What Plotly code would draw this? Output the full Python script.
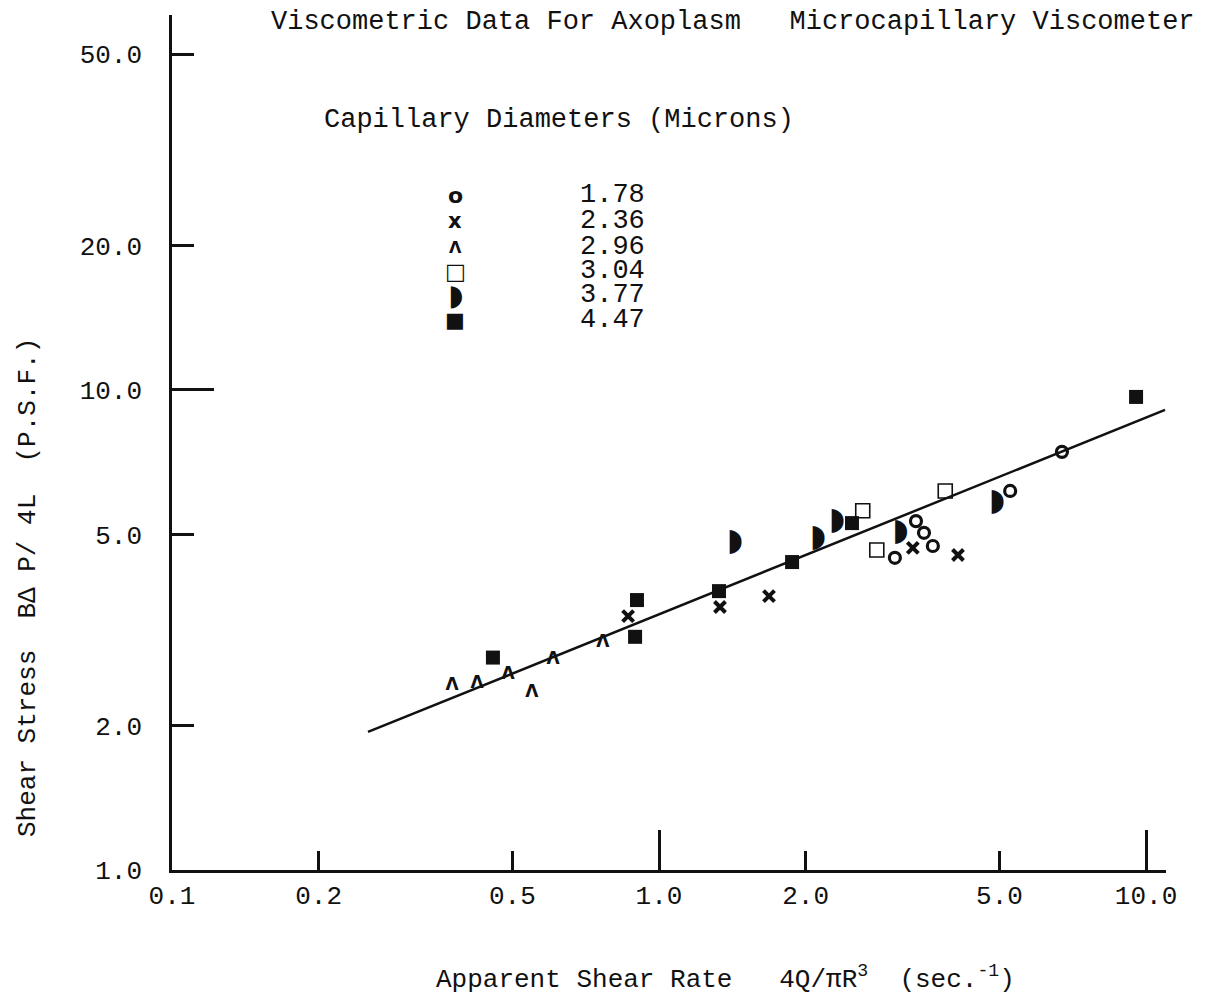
import plotly.graph_objects as go

# ---------------- data ----------------
# Capillary diameter 1.78 microns (open circles)
x_178 = [3.05, 3.37, 3.50, 3.65, 5.26, 6.72]
y_178 = [4.47, 5.33, 5.04, 4.73, 6.16, 7.43]
# 2.36 microns (x)
x_236 = [0.864, 1.334, 1.682, 3.32, 4.11]
y_236 = [3.38, 3.53, 3.72, 4.69, 4.53]
# 2.96 microns (caret)
x_296 = [0.376, 0.423, 0.490, 0.548, 0.606, 0.767]
y_296 = [2.42, 2.44, 2.55, 2.34, 2.74, 2.97]
# 3.04 microns (open squares)
x_304 = [2.62, 2.80, 3.87]
y_304 = [5.60, 4.64, 6.16]
# 3.77 microns (right half disc)
x_377 = [1.432, 2.12, 2.32, 3.13, 4.94]
y_377 = [4.82, 4.92, 5.33, 5.06, 5.84]
# 4.47 microns (filled squares)
x_447 = [0.456, 0.901, 0.893, 1.328, 1.876, 2.49, 9.54]
y_447 = [2.77, 3.65, 3.06, 3.81, 4.38, 5.28, 9.67]

# fitted line end points
fit_x = [0.2526, 10.94]
fit_y = [1.939, 9.09]

legend_labels = ["1.78", "2.36", "2.96", "3.04", "3.77", "4.47"]
legend_glyphs = ["<b>o</b>", "<b>x</b>", "<b>\u039b</b>", "\u25a1", "\u25d7", "\u25a0"]

x_tickvals = [0.1, 0.2, 0.5, 1.0, 2.0, 5.0, 10.0]
x_ticktext = ["0.1", "0.2", "0.5", "1.0", "2.0", "5.0", "10.0"]
y_tickvals = [1.0, 2.0, 5.0, 10.0, 20.0, 50.0]
y_ticktext = ["1.0", "2.0", "5.0", "10.0", "20.0", "50.0"]

TYPE = "Courier New, Liberation Mono, monospace"
INK = "#111111"

# page body has an 8px margin; work in reference pixels and shift by it
OFF = 8
L, R, T, B = 172 - OFF, 1166 - OFF, 15 - OFF, 870 - OFF
W, H = 1207 - 2 * OFF, 1001 - 2 * OFF


def pxx(x):
    return (x - OFF - L) / (R - L)


def pxy(y):
    return (B - (y - OFF)) / (B - T)


fig = go.Figure()

fig.add_trace(go.Scatter(x=fit_x, y=fit_y, mode="lines",
                         line=dict(color=INK, width=2.5), showlegend=False, hoverinfo="skip"))

fig.add_trace(go.Scatter(x=x_178, y=y_178, mode="markers",
                         marker=dict(symbol="circle-open", size=11, color=INK, line=dict(width=3.2, color=INK))))
fig.add_trace(go.Scatter(x=x_236, y=y_236, mode="markers",
                         marker=dict(symbol="x-thin", size=11, color=INK, line=dict(width=4, color=INK))))
fig.add_trace(go.Scatter(x=x_296, y=y_296, mode="text", text=["<b>\u039b</b>"] * len(x_296),
                         textposition="middle center",
                         textfont=dict(family="DejaVu Sans", size=17, color=INK)))
fig.add_trace(go.Scatter(x=x_304, y=y_304, mode="markers",
                         marker=dict(symbol="square-open", size=14, color=INK, line=dict(width=1.6, color=INK))))
fig.add_trace(go.Scatter(x=x_377, y=y_377, mode="text", text=["\u25d7"] * len(x_377),
                         textposition="middle center",
                         textfont=dict(family="DejaVu Sans", size=31, color=INK)))
fig.add_trace(go.Scatter(x=x_447, y=y_447, mode="markers",
                         marker=dict(symbol="square", size=14, color=INK, line=dict(width=0))))

# empty trace for overlay axes (long decade ticks)
fig.add_trace(go.Scatter(x=[], y=[], xaxis="x2", yaxis="y2", showlegend=False, hoverinfo="skip"))

xr = [-1.0, 1.041]
yr = [0.0, 1.781]

fig.update_layout(
    width=W, height=H,
    margin=dict(l=L, r=W - R, t=T, b=H - B),
    paper_bgcolor="white", plot_bgcolor="white",
    showlegend=False,
    font=dict(family=TYPE, size=26, color=INK),
    xaxis=dict(type="log", range=xr, tickvals=x_tickvals, ticktext=x_ticktext,
               ticks="inside", ticklen=19, tickwidth=2.5, tickcolor=INK,
               showline=True, linewidth=2.5, linecolor=INK, mirror=False,
               showgrid=False, zeroline=False, ticklabelstandoff=0,
               tickfont=dict(family=TYPE, size=26, color=INK)),
    yaxis=dict(type="log", range=yr, tickvals=y_tickvals, ticktext=y_ticktext,
               ticks="inside", ticklen=22, tickwidth=2.5, tickcolor=INK,
               showline=True, linewidth=2.5, linecolor=INK, mirror=False,
               showgrid=False, zeroline=False, ticklabelstandoff=22,
               tickfont=dict(family=TYPE, size=26, color=INK)),
    xaxis2=dict(type="log", range=xr, overlaying="x", anchor="y", side="bottom",
                tickvals=[1.0, 10.0], ticks="inside", ticklen=40, tickwidth=2.5, tickcolor=INK,
                showticklabels=False, showline=False, showgrid=False, zeroline=False),
    yaxis2=dict(type="log", range=yr, overlaying="y", anchor="x", side="left",
                tickvals=[10.0], ticks="inside", ticklen=42, tickwidth=2.5, tickcolor=INK,
                showticklabels=False, showline=False, showgrid=False, zeroline=False),
)

ann = []
NB = "\u00a0"
ann.append(dict(text="Viscometric Data For Axoplasm" + NB * 3 + "Microcapillary Viscometer",
                x=pxx(733), y=pxy(22), xref="paper", yref="paper", showarrow=False,
                xanchor="center", yanchor="middle", font=dict(family=TYPE, size=27, color=INK)))
ann.append(dict(text="Capillary Diameters (Microns)",
                x=pxx(322), y=pxy(120), xref="paper", yref="paper", showarrow=False,
                xanchor="left", yanchor="middle", font=dict(family=TYPE, size=27, color=INK)))
rows_y = [195, 221, 247, 271, 295, 320]
glyph_sizes = [22, 21, 16, 22, 29, 21]
for lab, gl, ry, gs in zip(legend_labels, legend_glyphs, rows_y, glyph_sizes):
    ann.append(dict(text=gl, x=pxx(455), y=pxy(ry), xref="paper", yref="paper", showarrow=False,
                    xanchor="center", yanchor="middle", font=dict(family="DejaVu Sans", size=gs, color=INK)))
    ann.append(dict(text=lab, x=pxx(578), y=pxy(ry), xref="paper", yref="paper", showarrow=False,
                    xanchor="left", yanchor="middle", font=dict(family=TYPE, size=27, color=INK)))

ann.append(dict(text="Apparent Shear Rate" + NB * 3 + "4Q/\u03c0R<sup>3</sup>" + NB * 2 + "(sec.<sup>-1</sup>)",
                x=pxx(725), y=pxy(978), xref="paper", yref="paper", showarrow=False,
                xanchor="center", yanchor="middle", font=dict(family=TYPE, size=26, color=INK)))
ann.append(dict(text="Shear Stress" + NB * 2 + "B\u0394 P/ 4L" + NB * 2 + "(P.S.F.)",
                x=pxx(28), y=pxy(588), xref="paper", yref="paper", showarrow=False, textangle=-90,
                xanchor="center", yanchor="middle", font=dict(family=TYPE, size=26, color=INK)))
fig.update_layout(annotations=ann)

fig.write_html("out.html")
